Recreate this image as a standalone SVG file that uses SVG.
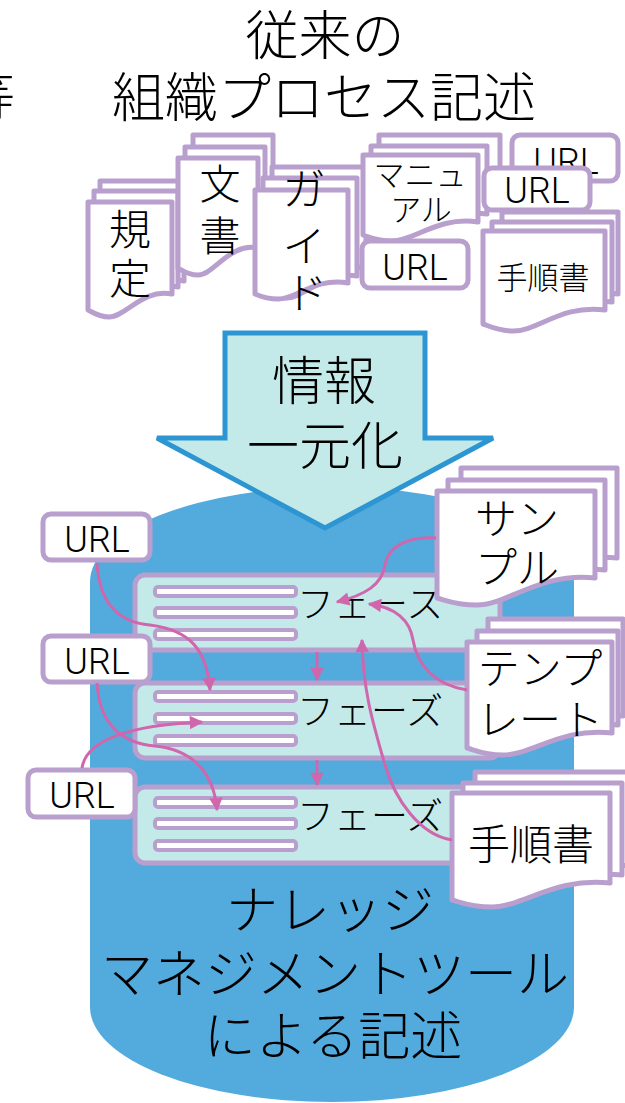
<svg xmlns="http://www.w3.org/2000/svg" width="625" height="1103" viewBox="0 0 625 1103">
<style>
.doc{fill:#fff;stroke:#B89FCE;stroke-width:5;stroke-linejoin:round}
.box{fill:#fff;stroke:#B89FCE;stroke-width:5}
.phase{fill:#C3EAE9;stroke:#B89FCE;stroke-width:5}
.bar{fill:#fff;stroke:#B89FCE;stroke-width:4}
.jp{font-family:"Noto Sans CJK JP","Noto Sans CJK SC",sans-serif;font-weight:300;fill:#000;text-anchor:middle}
.url{font-family:Roboto,"Liberation Sans",sans-serif;font-weight:300;fill:#000;text-anchor:middle;font-size:36px}
.conn{fill:none;stroke:#D067AC;stroke-width:3;marker-end:url(#ah)}
</style>
<defs>
<marker id="ah" viewBox="0 0 10 10" refX="9" refY="5" markerWidth="5" markerHeight="4.5" orient="auto" markerUnits="strokeWidth">
<path d="M0,0 L10,5 L0,10 z" fill="#D067AC"/>
</marker>
</defs>
<rect width="625" height="1103" fill="#fff"/>

<g id="title">
<text class="jp" x="-38" y="116" font-size="53" style="text-anchor:start">等</text>
<text class="jp" x="325" y="55" font-size="53">従来の</text>
<text class="jp" x="324" y="117" font-size="53">組織プロセス記述</text>
</g>

<g id="doc-kitei">
<path class="doc" d="M100,181 H184 V281 C154.6,275 137.8,305 121,305 C110.1,305 104.2,300 100,298 Z"/>
<path class="doc" d="M94,191 H178 V287 C148.6,281 131.8,311 115,311 C104.1,311 98.2,306 94,304 Z"/>
<path class="doc" d="M88,202 H172 V294 C142.6,288 125.8,317 109,317 C98.1,317 92.2,312 88,310 Z"/>
<text class="jp" x="130" y="245" font-size="42">規</text>
<text class="jp" x="130" y="294" font-size="42">定</text>
</g>

<g id="doc-bunsho">
<path class="doc" d="M193,135 H273 V232 C245,226 229,259 213,259 C202.6,259 197,254 193,252 Z"/>
<path class="doc" d="M185,147 H265 V240 C237,234 221,267 205,267 C194.6,267 189,262 185,260 Z"/>
<path class="doc" d="M178,158 H258 V248 C230,242 214,275 198,275 C187.6,275 182,270 178,268 Z"/>
<text class="jp" x="220" y="199" font-size="41">文</text>
<text class="jp" x="220" y="251" font-size="41">書</text>
</g>

<g id="doc-guide">
<path class="doc" d="M272,167 H366 V268 C333.1,262 314.3,290 295.5,290 C283.3,290 276.7,285 272,283 Z"/>
<path class="doc" d="M263,178 H357 V276 C324.1,270 305.3,298 286.5,298 C274.3,298 267.7,293 263,291 Z"/>
<path class="doc" d="M255,190 H348 V283 C315.45,277 296.85,299 278.25,299 C266.2,299 259.7,296 255,294 Z"/>
<text class="jp" x="304" y="205" font-size="43">ガ</text>
<text class="jp" x="304" y="262" font-size="43">イ</text>
<text class="jp" x="306" y="309" font-size="43">ド</text>
</g>

<g id="doc-manual">
<path class="doc" d="M379,135 H500 V206 C457.7,200 433.5,226 409.3,226 C393.5,226 385,222 379,220 Z"/>
<path class="doc" d="M371,146 H487 V214 C446.4,208 423.2,235 400,235 C384.9,235 376.8,231 371,229 Z"/>
<path class="doc" d="M363,155 H478 V222 C437.8,216 414.8,241 391.8,241 C376.8,241 368.8,237 363,235 Z"/>
<text class="jp" x="420" y="186" font-size="31">マニュ</text>
<text class="jp" x="421" y="221" font-size="31">アル</text>
</g>

<g id="url-top-a">
<rect class="box" x="362" y="241" width="106" height="47" rx="8"/>
<text class="url" x="415" y="280">URL</text>
</g>

<g id="url-top-b">
<rect class="box" x="512" y="135" width="106" height="46" rx="8"/>
<text class="url" x="566" y="174">URL</text>
</g>

<g id="url-top-c">
<rect class="box" x="484" y="168" width="106" height="42" rx="8"/>
<text class="url" x="537" y="203">URL</text>
</g>

<g id="doc-tejun-top">
<path class="doc" d="M502,212 H618 V294 C577.4,288 554.2,316 531,316 C515.9,316 507.8,311 502,309 Z"/>
<path class="doc" d="M492,222 H612 V302 C570,296 546,324 522,324 C506.4,324 498,319 492,317 Z"/>
<path class="doc" d="M483,231 H605 V310 C562.3,304 537.9,331 513.5,331 C497.6,331 489.1,326 483,324 Z"/>
<text class="jp" x="543" y="289" font-size="31">手順書</text>
</g>

<g id="kms-cylinder">
<path d="M90,582 A242,95 0 0 1 574,582 V1007 A242,95 0 0 1 90,1007 Z" fill="#53AADD"/>
<text class="jp" x="330" y="929" font-size="52">ナレッジ</text>
<text class="jp" x="335" y="993" font-size="52">マネジメントツール</text>
<text class="jp" x="333" y="1055" font-size="52">による記述</text>
</g>

<g id="arrow-unify">
<polygon points="225,333 425,333 425,438 493,438 325,528 157,438 225,438" fill="#C3EAE9" stroke="#2C95D2" stroke-width="5"/>
<text class="jp" x="324" y="400" font-size="52">情報</text>
<text class="jp" x="325" y="465" font-size="52">一元化</text>
</g>

<g id="phase-1">
<rect class="phase" x="135" y="575" width="365" height="75" rx="10"/>
<rect class="bar" x="155" y="587" width="141" height="9" rx="3"/>
<rect class="bar" x="155" y="608" width="141" height="9" rx="3"/>
<rect class="bar" x="155" y="630" width="141" height="9" rx="3"/>
<text class="jp" x="297" y="618" font-size="37" style="text-anchor:start">フェース</text>
</g>

<g id="phase-2">
<rect class="phase" x="135" y="683" width="365" height="75" rx="10"/>
<rect class="bar" x="155" y="692" width="141" height="9" rx="3"/>
<rect class="bar" x="155" y="714" width="141" height="9" rx="3"/>
<rect class="bar" x="155" y="736" width="141" height="9" rx="3"/>
<text class="jp" x="297" y="725" font-size="37" style="text-anchor:start">フェーズ</text>
</g>

<g id="phase-3">
<rect class="phase" x="135" y="787" width="365" height="76" rx="10"/>
<rect class="bar" x="155" y="798" width="141" height="9" rx="3"/>
<rect class="bar" x="155" y="819" width="141" height="9" rx="3"/>
<rect class="bar" x="155" y="841" width="141" height="9" rx="3"/>
<text class="jp" x="297" y="830" font-size="37" style="text-anchor:start">フェーズ</text>
</g>

<g id="url-left-1">
<rect class="box" x="43" y="514" width="107" height="46" rx="8"/>
<text class="url" x="97" y="552">URL</text>
</g>

<g id="url-left-2">
<rect class="box" x="43" y="636" width="107" height="46" rx="8"/>
<text class="url" x="97" y="674">URL</text>
</g>

<g id="url-left-3">
<rect class="box" x="28" y="770" width="107" height="47" rx="8"/>
<text class="url" x="82" y="808">URL</text>
</g>

<g id="doc-sample">
<path class="doc" d="M461,468 H617 V558 C562.4,552 531.2,583 500,583 C479.7,583 468.8,578 461,576 Z"/>
<path class="doc" d="M448,480 H605 V570 C550,564 518.7,595 487.3,595 C466.8,595 455.9,590 448,588 Z"/>
<path class="doc" d="M437,491 H595 V578 C539.7,572 508.1,605 476.5,605 C456,605 444.9,600 437,598 Z"/>
<text class="jp" x="517" y="534" font-size="42">サン</text>
<text class="jp" x="517" y="583" font-size="42">プル</text>
</g>

<g id="doc-template">
<path class="doc" d="M488,619 H623 V716 C575.8,710 548.8,738 521.8,738 C504.2,738 494.8,733 488,731 Z"/>
<path class="doc" d="M477,631 H618 V725 C568.7,719 540.5,747 512.3,747 C493.9,747 484,742 477,740 Z"/>
<path class="doc" d="M467,642 H612 V733 C561.3,727 532.3,755 503.3,755 C484.4,755 474.3,750 467,748 Z"/>
<text class="jp" x="540" y="684" font-size="42">テンプ</text>
<text class="jp" x="540" y="735" font-size="42">レート</text>
</g>

<g id="doc-tejun-bottom">
<path class="doc" d="M475,772 H630 V866 C575.8,860 544.8,888 513.8,888 C493.6,888 482.8,883 475,881 Z"/>
<path class="doc" d="M463,783 H622 V875 C566.4,869 534.6,898 502.8,898 C482.1,898 471,893 463,891 Z"/>
<path class="doc" d="M452,793 H610 V883 C554.7,877 523.1,907 491.5,907 C471,907 459.9,902 452,900 Z"/>
<text class="jp" x="531" y="860" font-size="42">手順書</text>
</g>

<g id="connectors">
<path class="conn" d="M317,652 V680"/>
<path class="conn" d="M317,760 V785"/>
<path class="conn" d="M97,563 C99,600 115,622 150,625 C190,630 207,650 210,690"/>
<path class="conn" d="M97,683 C99,720 118,743 155,746 C195,750 214,775 217,810"/>
<path class="conn" d="M82,768 C86,740 130,725 202,722"/>
<path class="conn" d="M436,538 C405,536 388,548 385,565 C382,585 365,595 337,602"/>
<path class="conn" d="M467,690 C435,685 417,665 413,640 C410,620 395,607 369,604"/>
<path class="conn" d="M452,840 C420,835 395,800 385,765 C372,720 363,690 362,640"/>
</g>
</svg>
